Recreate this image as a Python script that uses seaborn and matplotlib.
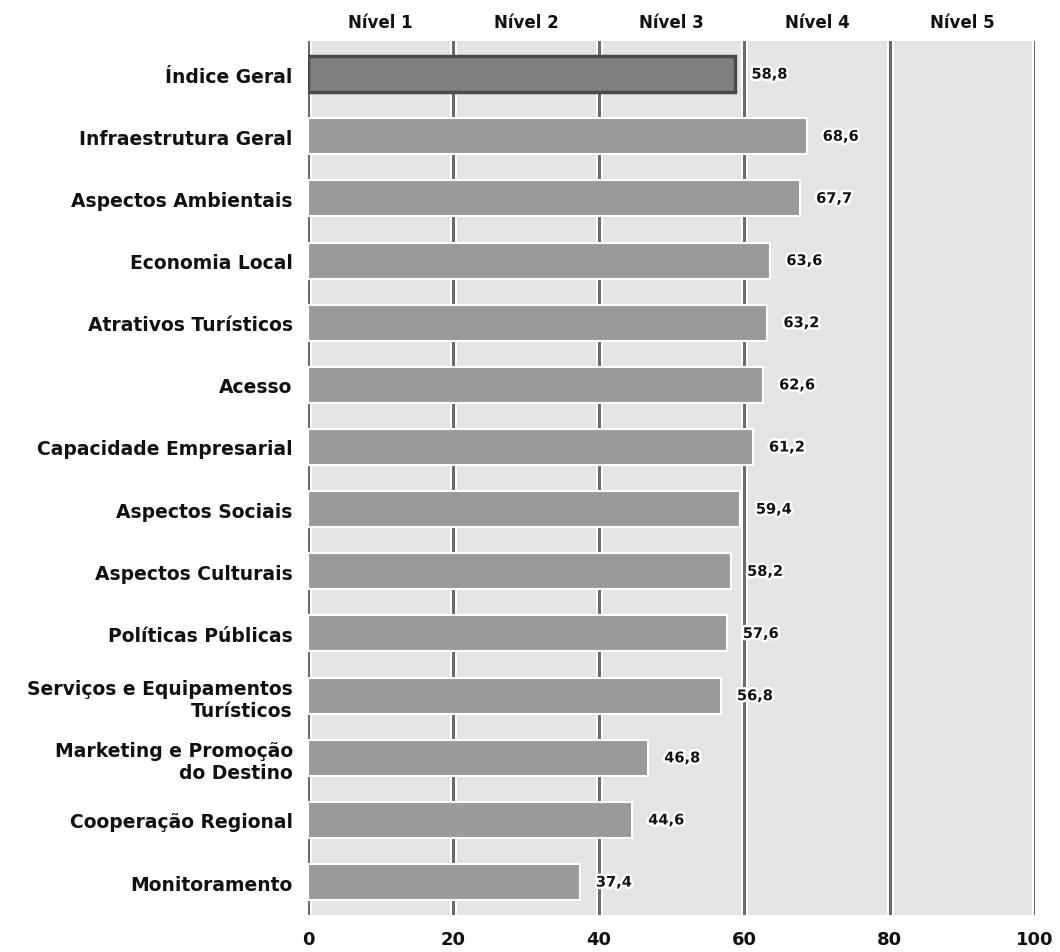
import matplotlib
matplotlib.use("Agg")
import matplotlib.pyplot as plt
import matplotlib.patheffects as pe
import seaborn as sns
import pandas as pd

categorias = [
    "Índice Geral",
    "Infraestrutura Geral",
    "Aspectos Ambientais",
    "Economia Local",
    "Atrativos Turísticos",
    "Acesso",
    "Capacidade Empresarial",
    "Aspectos Sociais",
    "Aspectos Culturais",
    "Políticas Públicas",
    "Serviços e Equipamentos\nTurísticos",
    "Marketing e Promoção\ndo Destino",
    "Cooperação Regional",
    "Monitoramento",
]
valores = [58.8, 68.6, 67.7, 63.6, 63.2, 62.6, 61.2, 59.4, 58.2, 57.6, 56.8, 46.8, 44.6, 37.4]
niveis = ["Nível 1", "Nível 2", "Nível 3", "Nível 4", "Nível 5"]
ticks_x = [0, 20, 40, 60, 80, 100]

sns.set_theme(style="white")
plt.rcParams["font.family"] = ["DejaVu Sans"]

df = pd.DataFrame({"categoria": categorias, "valor": valores})
cores = ["#7f7f7f"] + ["#9a9a9a"] * (len(categorias) - 1)

fig = plt.figure(figsize=(10.6, 9.53), dpi=100)
ax = fig.add_axes([0.2906, 0.0388, 0.6858, 0.917])
ax.set_facecolor("#e4e4e4")

# vertical level boundaries, drawn behind the bars
for x in ticks_x:
    ax.axvline(x, color="white", lw=5, zorder=0.5)
    ax.axvline(x, color="#6a6a6a", lw=2.2, zorder=0.6)

sns.barplot(data=df, y="categoria", x="valor", hue="categoria", palette=cores,
            legend=False, orient="h", width=0.58, ax=ax, zorder=2,
            edgecolor="white", linewidth=1.5)

# darker outline for the overall index bar
first = ax.patches[0]
first.set_edgecolor("#4a4a4a")
first.set_linewidth(2.5)

for i, v in enumerate(valores):
    ax.text(v + 2.2, i, f"{v:.1f}".replace(".", ","), va="center", ha="left",
            fontsize=10.5, fontweight="bold", color="#111111", zorder=5,
            path_effects=[pe.withStroke(linewidth=3.5, foreground="white")])

for j, nome in enumerate(niveis):
    ax.text(10 + 20 * j, 1.012, nome, transform=ax.get_xaxis_transform(),
            ha="center", va="bottom", fontsize=12, fontweight="bold", color="#111111")

ax.set_xlim(0, 100)
ax.set_ylim(len(categorias) - 0.47, -0.53)
ax.set_xticks(ticks_x)
ax.set_xticklabels([str(t) for t in ticks_x], fontsize=13, fontweight="bold", color="#111111")
ax.tick_params(axis="x", length=0, pad=11)
ax.tick_params(axis="y", length=0, pad=11)
for lbl in ax.get_yticklabels():
    lbl.set_fontsize(13.5)
    lbl.set_fontweight("bold")
    lbl.set_color("#111111")
    lbl.set_horizontalalignment("right")
    lbl.set_multialignment("right")
ax.set_xlabel("")
ax.set_ylabel("")
for s in ax.spines.values():
    s.set_visible(False)

fig.savefig("out.png", dpi=100, facecolor="white")
